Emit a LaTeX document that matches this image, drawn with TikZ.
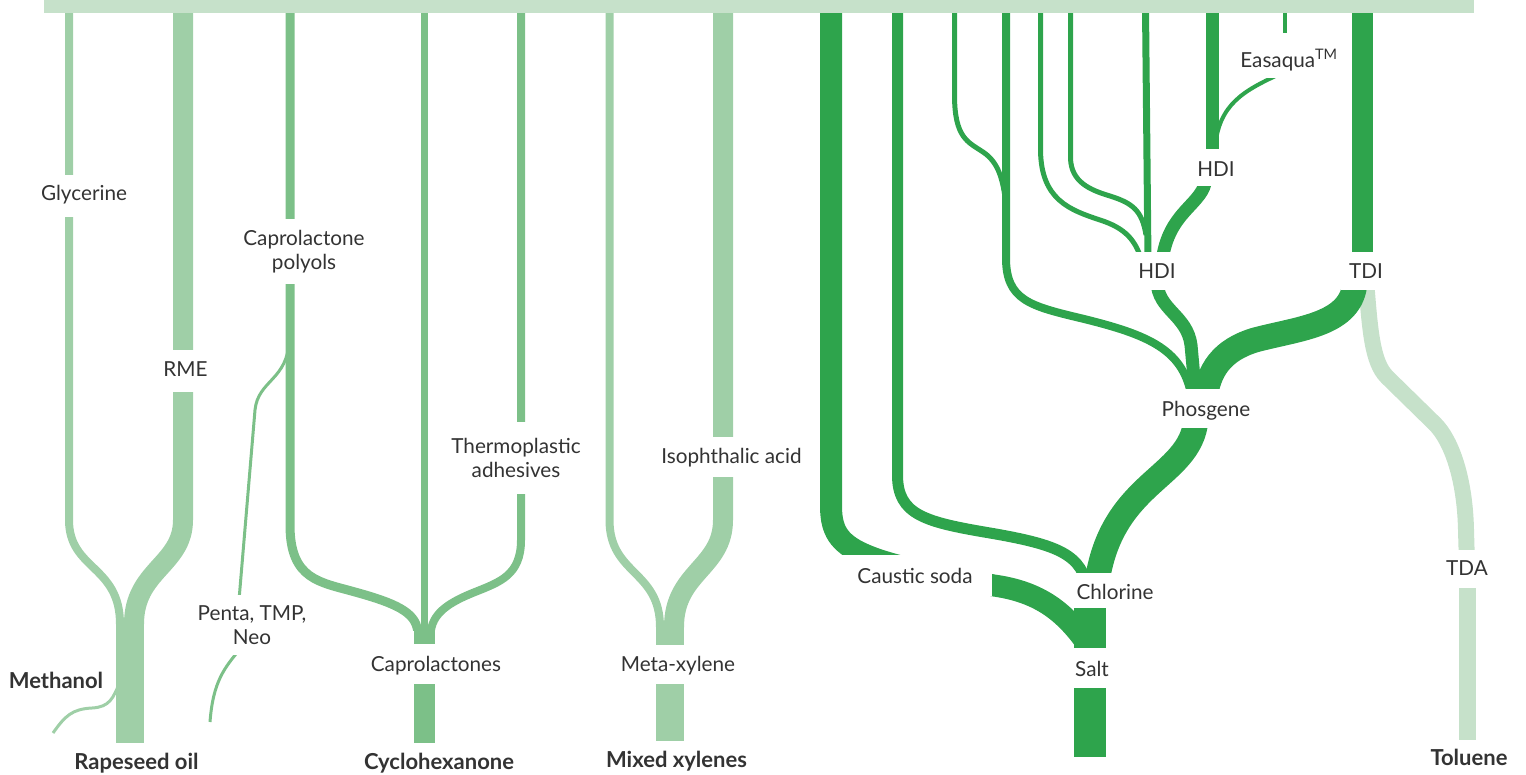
\documentclass[tikz,border=0pt]{standalone}
\usepackage{fontspec}
\setmainfont{Lato}
\definecolor{cBar}{HTML}{C6E1CA}
\definecolor{cA}{HTML}{9FCFA7}
\definecolor{cB}{HTML}{7CC088}
\definecolor{cC}{HTML}{2EA44C}
\definecolor{cT}{HTML}{333333}
\pgfdeclarelayer{bg}
\pgfsetlayers{bg,main}
\begin{document}
\begin{tikzpicture}[x=1pt,y=-1pt,line join=round,
  lbl/.style={fill=white, text=cT, font=\fontsize{20.7}{24.5}\selectfont, inner xsep=5pt, inner ysep=0pt, anchor=base, text height=26pt, text depth=12pt},
  lbltwo/.style={fill=white, text=cT, font=\fontsize{20.7}{24.5}\selectfont, inner xsep=5pt, inner ysep=0pt, align=center},
  srclbl/.style={font=\fontsize{22}{26}\selectfont\bfseries, text=cT, anchor=base, inner sep=0pt},
  fA/.style={draw=cA}, fB/.style={draw=cB}, fC/.style={draw=cC}, fL/.style={draw=cBar}]
\useasboundingbox (0,0) rectangle (1526,774);

% source bar
\node[fill=cBar, minimum width=1430pt, minimum height=13pt, inner sep=0pt, anchor=north west] (src) at (44,0) {};

% labels
\node[lbl, text depth=17pt, text height=25pt] (gly) at (84,200) {Glycerine};
\node[lbl, text depth=16pt] (rme) at (185.5,376) {RME};
\node[lbltwo, minimum height=65pt] (poly) at (304,251.5) {Caprolactone\\polyols};
\node[lbltwo, minimum height=72pt] (thermo) at (516,458) {Thermoplastic\\adhesives};
\node[lbltwo, minimum height=60pt] (penta) at (252,625) {Penta, TMP,\\Neo};
\node[lbl, text depth=14pt] (iso) at (731.5,463) {Isophthalic acid};
\node[lbl, text height=27pt, text depth=13pt] (capr) at (436,671) {Caprolactones};
\node[lbl, text depth=13pt] (meta) at (678,671) {Meta-xylene};
\node[lbl, text height=28pt, text depth=13pt, minimum width=154pt] (caus) at (915,583) {Caustic soda};
\node[lbl, text depth=9pt, inner xsep=5pt] (chl) at (1115,599) {Chlorine};
\node[lbl, text height=28pt, minimum width=50pt] (salt) at (1092,676) {Salt};
\node[lbl, text height=27pt] (phos) at (1206,416) {Phosgene};
\node[lbl, minimum width=48pt] (hdiL) at (1157,278) {HDI};
\node[lbl, text height=27pt, text depth=10pt, minimum width=44pt] (hdiU) at (1216,176) {HDI};
\node[lbl, minimum width=50pt] (tdi) at (1366,278) {TDI};
\node[lbl, text height=25pt, text depth=13pt] (tda) at (1467,575) {TDA};
\node[lbl, text height=34pt, text depth=11pt] (easa) at (1289,67) {Easaqua\textsuperscript{TM}};

\node[srclbl] (meth) at (56,688) {Methanol};
\node[srclbl] (rape) at (136.5,769) {Rapeseed oil};
\node[srclbl] (cyclo) at (439,769) {Cyclohexanone};
\node[srclbl] (mixed) at (676.5,767) {Mixed xylenes};
\node[srclbl] (tol) at (1469,765) {Toluene};

\begin{pgfonlayer}{bg}
% ---- Rapeseed oil group
\draw[fA, line width=8pt] (69,8) -- (69,520) .. controls (69,570) and (120,565) .. (120,624);
\draw[fA, line width=20pt] (183,8) -- (183,520) .. controls (183,565) and (134,570) .. (134,624);
\draw[fA, line width=28pt] (130,622) -- (130,743);
\draw[fA, line width=3pt] (53,733) .. controls (65,716) and (72,709) .. (92,708) .. controls (110,707) and (113,698) .. (120,682);

% ---- Cyclohexanone group
\draw[fB, line width=9pt] (290,8) -- (290,525) .. controls (290,580) and (320,582) .. (355,592) .. controls (395,603) and (415,612) .. (417.5,630);
\draw[fB, line width=7pt] (424,8) -- (424,630);
\draw[fB, line width=8pt] (521,8) -- (521,540) .. controls (521,575) and (500,582) .. (475,592) .. controls (450,602) and (434,612) .. (431,630);
\draw[fB, line width=21pt] (424.5,625) -- (424.5,743);
\draw[fB, line width=3pt] (289,340) .. controls (288,380) and (258,380) .. (255,410) -- (239,600);
\draw[fB, line width=3pt] (241,648) .. controls (224,668) and (213,682) .. (210,722);

% ---- Mixed xylenes group
\draw[fA, line width=8pt] (609.5,8) -- (609.5,520) .. controls (609.5,575) and (660,570) .. (660,627);
\draw[fA, line width=20pt] (723,8) -- (723,520) .. controls (723,568) and (674,572) .. (674,627);
\draw[fA, line width=28pt] (670,625) -- (670,741);

% ---- Toluene / TDA
\draw[fL, line width=16pt] (1366,280) .. controls (1370,330) and (1372,362) .. (1387,377) -- (1435,424) .. controls (1452,441) and (1465,480) .. (1466,530) -- (1467,565);
\draw[fL, line width=17pt] (1467,580) -- (1467,740);

% ---- Salt group
\draw[fC, line width=22pt] (831,8) -- (831,505) .. controls (831,548) and (850,560) .. (994,585.5) .. controls (1040,592) and (1065,612) .. (1088,645);
\draw[fC, line width=11pt] (897.5,8) -- (897.5,475) .. controls (897.5,515) and (925,522) .. (990,533) .. controls (1060,545) and (1082,555) .. (1088,590);
\draw[fC, line width=32pt] (1090,600) -- (1090,757);
\draw[fC, line width=25pt] (1196,420) .. controls (1190,480) and (1108,480) .. (1096,590);
\draw[fC, line width=25pt] (1355,282) .. controls (1352,325) and (1300,328) .. (1255,340) .. controls (1222,350) and (1208,370) .. (1205,400);
\draw[fC, line width=13pt] (1157,282) .. controls (1158,310) and (1187,315) .. (1191,345) -- (1196,400);
\draw[fC, line width=8pt] (1006,8) -- (1006,258) .. controls (1006,300) and (1030,306) .. (1080,318) .. controls (1150,335) and (1185,350) .. (1192,400);
\draw[fC, line width=5pt] (954.5,8) -- (954.5,95) .. controls (954.5,138) and (968,142) .. (983,152) .. controls (998,162) and (1003,178) .. (1006,205);
\draw[fC, line width=5pt] (1040.5,8) -- (1040.5,150) .. controls (1041,200) and (1070,210) .. (1100,220) .. controls (1125,228) and (1136,240) .. (1142,262);
\draw[fC, line width=5pt] (1070.5,8) -- (1070.5,158) .. controls (1071,182) and (1090,190) .. (1110,196) .. controls (1132,203) and (1142,210) .. (1146,235);
\draw[fC, line width=7pt] (1145.5,8) -- (1148,262);
\draw[fC, line width=13pt] (1206,178) .. controls (1204,205) and (1168,210) .. (1162,262);
\draw[fC, line width=13pt] (1212.5,8) -- (1212.5,165);
\draw[fC, line width=4pt] (1285,8) -- (1285,45);
\draw[fC, line width=4pt] (1284,72) .. controls (1250,88) and (1222,100) .. (1216,140);
\draw[fC, line width=21pt] (1362,8) -- (1362,270);
\end{pgfonlayer}
\end{tikzpicture}
\end{document}
